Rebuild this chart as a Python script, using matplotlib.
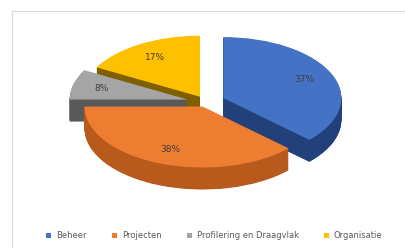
import matplotlib
matplotlib.use("Agg")
import matplotlib.pyplot as plt
from matplotlib.patches import Patch, Rectangle

categories = ["Beheer", "Projecten", "Profilering en Draagvlak", "Organisatie"]
values = [37, 38, 8, 17]
top_colors = ["#4472C4", "#ED7D31", "#A5A5A5", "#FFC000"]
side_colors = ["#22407A", "#B85A1C", "#595959", "#7F6000"]
explode = [0.16, 0.08, 0.16, 0.10]

W, H = 406, 248
fig = plt.figure(figsize=(W / 100, H / 100), dpi=100)
fig.patch.set_facecolor("white")
ax = fig.add_axes([0, 0, 1, 1])

cx, cy_top = 206, 102      # pixel centre of top face
rx, ry = 118, 61           # pixel radii
depth_px = 22
cyb = H - cy_top
depth = depth_px / ry

# side walls: stacked layers
N = 40
for k in range(N):
    off = -depth * (1 - k / N)
    ax.pie(values, colors=side_colors, startangle=90, counterclock=False,
           explode=explode, center=(0, off),
           wedgeprops=dict(linewidth=0, antialiased=True))

# top faces
wedges, texts, autotexts = ax.pie(
    values, colors=top_colors, startangle=90, counterclock=False,
    explode=explode, center=(0, 0), autopct="%1.0f%%", pctdistance=0.75,
    textprops=dict(fontsize=6.5, color="#404040"),
    wedgeprops=dict(linewidth=0))

ax.set_aspect("auto")
ax.set_xlim(-cx / rx, (W - cx) / rx)
ax.set_ylim(-cyb / ry, (H - cyb) / ry)
ax.axis("off")

# chart border
fig.patches.append(Rectangle((12 / W, 0), 1, 1 - 11 / H, transform=fig.transFigure,
                             fill=False, edgecolor="#D9D9D9", linewidth=0.8))

handles = [Patch(facecolor=c, edgecolor="none") for c in top_colors]
fig.legend(handles, categories, loc="center", bbox_to_anchor=(0.528, 1 - 236 / H),
           ncol=4, frameon=False, fontsize=6, handlelength=0.6, handleheight=0.6,
           handletextpad=0.6, columnspacing=3.0, labelcolor="#595959")

fig.savefig("out.png", dpi=100, facecolor="white")
